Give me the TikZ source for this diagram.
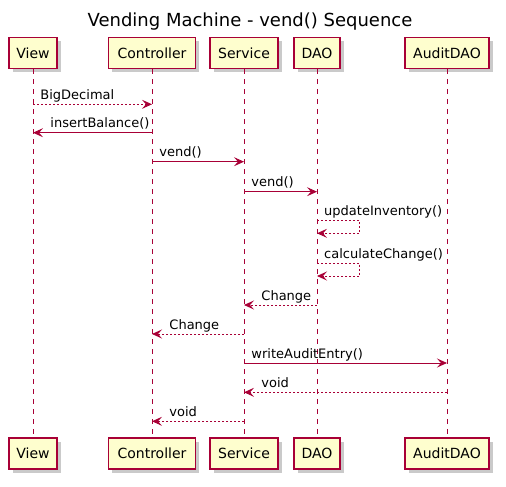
\documentclass[tikz,border=0pt]{standalone}
\usepackage{fontspec}
\setmainfont{DejaVu Sans}
\usetikzlibrary{arrows.meta,shadows}
\definecolor{pborder}{HTML}{A80036}
\definecolor{pfill}{HTML}{FEFECE}
\begin{document}
\begin{tikzpicture}[x=1pt,y=-1pt,
  part/.style={draw=pborder, fill=pfill, line width=1.1pt, minimum height=31pt, inner sep=0pt,
    font=\fontsize{14}{16}\selectfont,
    drop shadow={shadow xshift=3.5pt, shadow yshift=-3.5pt, opacity=0.35, fill=black!60}},
  life/.style={draw=pborder, line width=0.9pt, dash pattern=on 5pt off 5pt},
  msg/.style={draw=pborder, line width=0.9pt, -{Stealth[length=10pt,width=9pt,inset=4pt]}},
  ret/.style={msg, dash pattern=on 2pt off 2pt},
  lblR/.style={anchor=base west, xshift=7pt, yshift=5pt, inner sep=0pt, font=\fontsize{13}{15}\selectfont},
  lblL/.style={anchor=base west, xshift=17pt, yshift=5pt, inner sep=0pt, font=\fontsize{13}{15}\selectfont},
]
\useasboundingbox (0,0) rectangle (506,487);
\node[anchor=base, font=\fontsize{18}{21}\selectfont] (title) at (250,27) {Vending Machine - vend() Sequence};
% participants (top)
\node[part, minimum width=48pt] (viewT) at (33,53) {View};
\node[part, minimum width=87pt] (ctrlT) at (152,53) {Controller};
\node[part, minimum width=68pt] (servT) at (244,53) {Service};
\node[part, minimum width=46pt] (daoT) at (317,53) {DAO};
\node[part, minimum width=84pt] (audT) at (447,53) {AuditDAO};
% participants (bottom)
\node[part, minimum width=48pt] (viewB) at (33,453.5) {View};
\node[part, minimum width=87pt] (ctrlB) at (152,453.5) {Controller};
\node[part, minimum width=68pt] (servB) at (244,453.5) {Service};
\node[part, minimum width=46pt] (daoB) at (317,453.5) {DAO};
\node[part, minimum width=84pt] (audB) at (447,453.5) {AuditDAO};
% lifelines
\foreach \p in {view,ctrl,serv,dao,aud}{
  \draw[life] (\p T.south) -- (\p B.north);
}
% messages
\draw[ret] (viewT.south |- 0,104.3) -- (ctrlT.south |- 0,104.3) node[pos=0,lblR] {BigDecimal};
\draw[msg] (ctrlT.south |- 0,132.7) -- (viewT.south |- 0,132.7) node[pos=1,lblL] {insertBalance()};
\draw[msg] (ctrlT.south |- 0,161.7) -- (servT.south |- 0,161.7) node[pos=0,lblR] {vend()};
\draw[msg] (servT.south |- 0,191.7) -- (daoT.south |- 0,191.7) node[pos=0,lblR] {vend()};
% self loops
\coordinate (u1) at (daoT.south |- 0,220.7);
\coordinate (u2) at (daoT.south |- 0,233.3);
\draw[ret] (u1) -- ++(42.7,0) |- (u2);
\node[lblR] at (u1) {updateInventory()};
\coordinate (c1) at (daoT.south |- 0,263.3);
\coordinate (c2) at (daoT.south |- 0,276);
\draw[ret] (c1) -- ++(42.7,0) |- (c2);
\node[lblR] at (c1) {calculateChange()};
% returns
\draw[ret] (daoT.south |- 0,305) -- (servT.south |- 0,305) node[pos=1,lblL] {Change};
\draw[ret] (servT.south |- 0,334) -- (ctrlT.south |- 0,334) node[pos=1,lblL] {Change};
\draw[msg] (servT.south |- 0,363) -- (audT.south |- 0,363) node[pos=0,lblR] {writeAuditEntry()};
\draw[ret] (audT.south |- 0,392.3) -- (servT.south |- 0,392.3) node[pos=1,lblL] {void};
\draw[ret] (servT.south |- 0,421.3) -- (ctrlT.south |- 0,421.3) node[pos=1,lblL] {void};
\end{tikzpicture}
\end{document}
